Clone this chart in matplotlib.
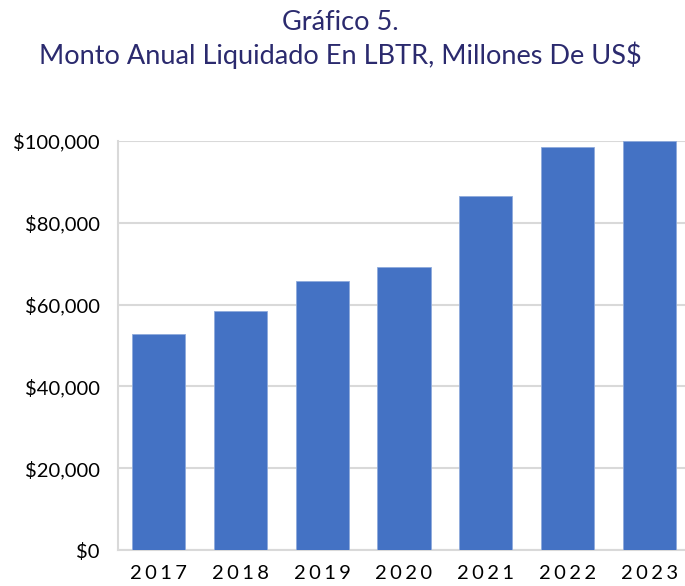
import matplotlib
matplotlib.use('Agg')
import matplotlib.pyplot as plt
from matplotlib.ticker import FuncFormatter

years = ['2017', '2018', '2019', '2020', '2021', '2022', '2023']
montos = [52800, 58400, 65800, 69200, 86600, 98600, 100000]
y_ticks = [0, 20000, 40000, 60000, 80000, 100000]

plt.rcParams['font.family'] = ['Lato', 'DejaVu Sans']

fig = plt.figure(figsize=(6.85, 5.86), dpi=100)
ax = fig.add_axes([0.1723, 0.0614, 0.835, 0.698])

x = range(len(years))
ax.bar(x, montos, width=0.65, color='#4472C4', edgecolor='#8FAADC', linewidth=0.6, zorder=3)

ax.set_xlim(-0.5, len(years) - 0.5)
ax.set_ylim(0, 100000)
ax.set_yticks(y_ticks)
ax.yaxis.set_major_formatter(FuncFormatter(lambda v, p: '${:,.0f}'.format(v)))
ax.set_xticks(list(x))
# letter-spaced year labels
ax.set_xticklabels(['\u2006'.join(y) for y in years])

ax.grid(axis='y', color='#D9D9D9', linewidth=1.5, zorder=0)
for side in ['top', 'right']:
    ax.spines[side].set_visible(False)
for side in ['left', 'bottom']:
    ax.spines[side].set_color('#D9D9D9')
    ax.spines[side].set_linewidth(1.5)

ax.tick_params(axis='y', length=0, pad=13, labelsize=14.5, labelcolor='#000000')
ax.tick_params(axis='x', length=0, pad=11, labelsize=14.5, labelcolor='#000000')

fig.text(0.497, 0.962, 'Gráfico 5.', ha='center', va='center', fontsize=19.5, color='#2B2A6E')
fig.text(0.497, 0.906, 'Monto Anual Liquidado En LBTR, Millones De US$', ha='center', va='center',
         fontsize=19.5, color='#2B2A6E')

fig.savefig('out.png', dpi=100)
